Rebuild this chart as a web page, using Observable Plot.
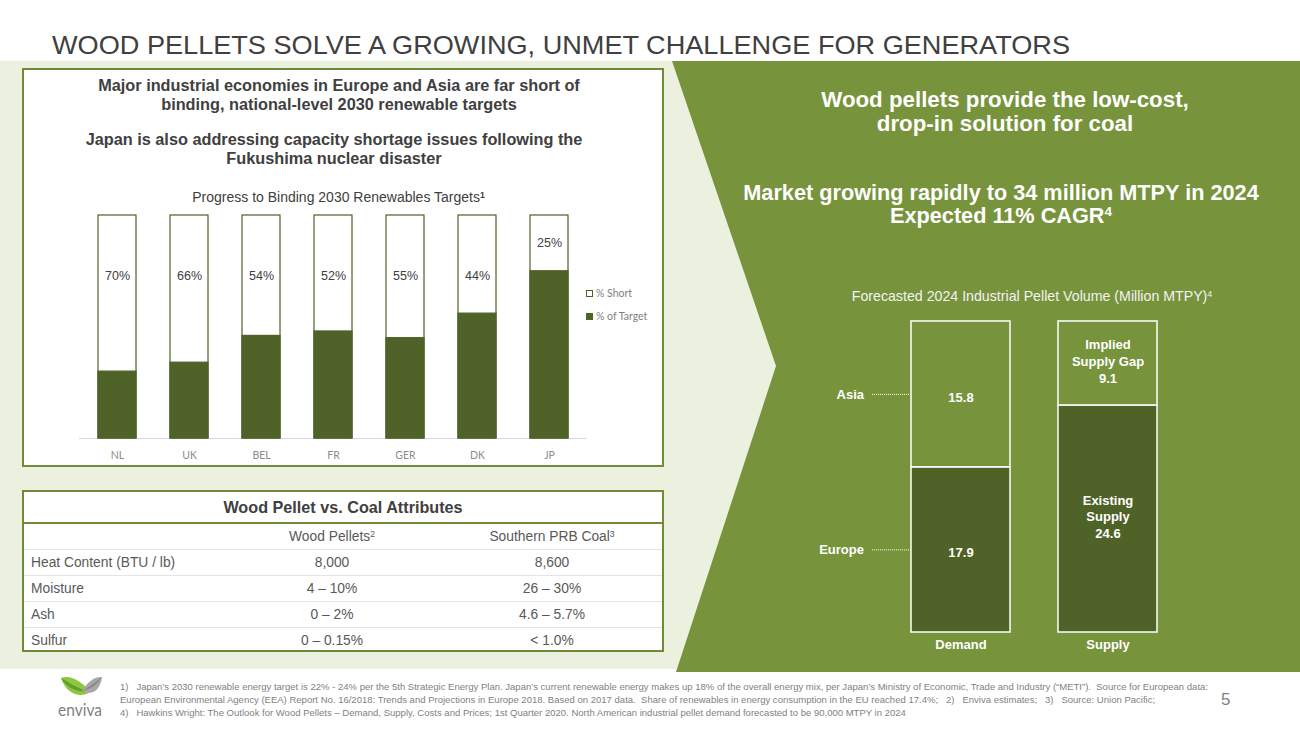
<!DOCTYPE html>
<html><head><meta charset="utf-8">
<script src="https://cdn.jsdelivr.net/npm/d3@7"></script>
<script src="https://cdn.jsdelivr.net/npm/@observablehq/plot@0.6"></script>
<style>
body{margin:0;width:1300px;height:731px;position:relative;overflow:hidden;background:#fff;font-family:"Liberation Sans",Arial,sans-serif;}
.abs{position:absolute;}
.fit{display:inline-block;white-space:pre;transform-origin:0 50%;}
sup{font-size:0.62em;line-height:0;vertical-align:0.5em;}
.hd{color:#404040;font-weight:bold;font-size:16.3px;text-align:center;line-height:19px;}
#tbl{border-collapse:collapse;width:100%;font-size:13.8px;color:#595959;}
#tbl td{height:25px;padding:0;border-top:1px solid #E4E4E4;}
.legend{font-family:Lato,"Noto Sans",sans-serif;font-size:10.5px;color:#7F7F7F;line-height:12px;}
.sw{display:inline-block;width:7px;height:7px;box-sizing:border-box;border:1px solid #4F6228;margin-right:3px;vertical-align:-0px;}
</style></head><body>

<svg class="abs" style="left:0;top:0" width="1300" height="731">
  <rect x="0" y="61" width="1300" height="608" fill="#EBF1DE"/>
  <polygon points="672,61 1300,61 1300,672 676,672 776,366" fill="#77933C"/>
</svg>

<div class="abs" style="left:52px;top:32px;font-size:26.5px;line-height:26.5px;color:#404040;"><span class="fit" id="title">WOOD PELLETS SOLVE A GROWING, UNMET CHALLENGE FOR GENERATORS</span></div>

<div class="abs" style="left:22px;top:68px;width:642px;height:399px;box-sizing:border-box;border:2px solid #6F8A38;background:#fff;"></div>
<div class="abs hd" style="left:0;width:678px;top:76px;">Major industrial economies in Europe and Asia are far short of<br>binding, national-level 2030 renewable targets</div>
<div class="abs hd" style="left:0;width:668px;top:130px;">Japan is also addressing capacity shortage issues following the<br>Fukushima nuclear disaster</div>
<div class="abs" style="left:0;width:677px;top:189px;text-align:center;font-size:14px;line-height:16px;color:#404040;">Progress to Binding 2030 Renewables Targets<sup style="font-weight:bold">1</sup></div>
<div class="abs" id="leftChart" style="left:0;top:200px;"></div>
<div class="abs legend" style="left:586px;top:287px;"><span class="sw" style="background:#fff"></span>% Short</div>
<div class="abs legend" style="left:586px;top:310px;"><span class="sw" style="background:#4F6228"></span>% of Target</div>

<div class="abs" style="left:22px;top:490px;width:642px;height:162px;box-sizing:border-box;border:2px solid #6F8A38;background:#fff;">
  <div style="height:30px;line-height:31px;text-align:center;font-weight:bold;font-size:16.2px;color:#404040;border-bottom:2px solid #6F8A38;">Wood Pellet vs. Coal Attributes</div>
  <table id="tbl"></table>
</div>

<div class="abs" style="left:705px;width:600px;top:88px;text-align:center;color:#fff;font-weight:bold;font-size:22.3px;line-height:24px;">Wood pellets provide the low-cost,<br>drop-in solution for coal</div>
<div class="abs" style="left:701px;width:600px;top:181px;text-align:center;color:#fff;font-weight:bold;font-size:21.7px;line-height:23px;white-space:nowrap;">Market growing rapidly to 34 million MTPY in 2024<br>Expected 11% CAGR<sup>4</sup></div>
<div class="abs" style="left:782px;width:500px;top:288px;text-align:center;color:#F2F2F2;font-size:14.2px;line-height:16px;">Forecasted 2024 Industrial Pellet Volume (Million MTPY)<sup>4</sup></div>
<div class="abs" id="rightChart" style="left:800px;top:280px;"></div>

<svg class="abs" style="left:54px;top:673px" width="56" height="48">
  <path d="M7,5 C16,1 29,9 36,19 C28,25 13,23 7,5 Z" fill="#8DC63F"/>
  <path d="M7,5 C12,14 22,19 34,19 C24,15 15,10 7,5 Z" fill="#5E9E2D"/>
  <path d="M28,18 C33,9 41,3 48,4 C47,15 39,24 28,18 Z" fill="#A8A8A8"/>
  <path d="M48,4 C43,12 37,16 28,18 C36,13 42,9 48,4 Z" fill="#8A8A8A"/>
  <text x="4" y="43" font-family="Lato,'Noto Sans',sans-serif" font-size="18" fill="#7F7F7F" textLength="44" lengthAdjust="spacingAndGlyphs">enviva</text>
</svg>

<div class="abs" id="notes" style="left:120px;top:680.5px;font-size:8.6px;line-height:13px;color:#7F7F7F;"></div>
<div class="abs" style="left:1221px;top:690px;font-size:17px;line-height:20px;color:#7F7F7F;">5</div>

<script>
// ---------- data: renewable targets ----------
const countries = ["NL", "UK", "BEL", "FR", "GER", "DK", "JP"];
const pctOfTarget = [30, 34, 46, 48, 45, 56, 75];
const pctShort = [70, 66, 54, 52, 55, 44, 25];

// ---------- data: pellet volume ----------
const volumeBar = ["Demand", "Demand", "Supply", "Supply"];
const volumeSegment = ["Europe", "Asia", "Existing\nSupply", "Implied\nSupply Gap"];
const volumeValue = [17.9, 15.8, 24.6, 9.1];
const volumeTone = ["dark", "light", "dark", "light"];
const volumeNameInside = [false, false, true, true];

// ---------- data: attributes table ----------
const attrNames = ["Heat Content (BTU / lb)", "Moisture", "Ash", "Sulfur"];
const attrPellets = ["8,000", "4 – 10%", "0 – 2%", "0 – 0.15%"];
const attrCoal = ["8,600", "26 – 30%", "4.6 – 5.7%", "< 1.0%"];

// ---------- data: footnotes ----------
const footnotes = [
  "1)   Japan’s 2030 renewable energy target is 22% - 24% per the 5th Strategic Energy Plan. Japan’s current renewable energy makes up 18% of the overall energy mix, per Japan’s Ministry of Economic, Trade and Industry (“METI”).  Source for European data:",
  "European Environmental Agency (EEA) Report No. 16/2018: Trends and Projections in Europe 2018. Based on 2017 data.  Share of renewables in energy consumption in the EU reached 17.4%;   2)   Enviva estimates;   3)   Source: Union Pacific;",
  "4)   Hawkins Wright: The Outlook for Wood Pellets – Demand, Supply, Costs and Prices; 1st Quarter 2020. North American industrial pellet demand forecasted to be 90,000 MTPY in 2024"
];

// ---------- left chart ----------
const rows = countries.map((c, i) => ({country: c, target: pctOfTarget[i], short: pctShort[i]}));
const dark = "#4F6228";
const left = Plot.plot({
  width: 664, height: 270,
  marginLeft: 79, marginRight: 77.5, marginTop: 15, marginBottom: 32,
  style: {background: "transparent", fontFamily: "Lato, 'Noto Sans', sans-serif", fontSize: "10.5px", color: "#8C8C8C", overflow: "visible"},
  x: {domain: countries, paddingInner: 0.476, paddingOuter: 0.238, label: null, tickSize: 0, tickPadding: 13},
  y: {domain: [0, 100], axis: null},
  marks: [
    Plot.ruleY([0], {stroke: "#D9D9D9", strokeWidth: 1}),
    Plot.barY(rows, {x: "country", y: d => d.target + d.short, fill: "white", stroke: dark, strokeWidth: 1.2}),
    Plot.barY(rows, {x: "country", y: "target", fill: dark, stroke: dark, strokeWidth: 1.2}),
    Plot.text(rows, {x: "country", y: d => d.short < 30 ? 100 - d.short / 2 : 73, text: d => d.short + "%",
      fill: "#404040", fontSize: 12.5, fontFamily: "Liberation Sans, Arial, sans-serif"})
  ]
});
document.getElementById("leftChart").appendChild(left);

// ---------- right chart ----------
const vol = volumeValue.map((v, i) => ({bar: volumeBar[i], name: volumeSegment[i], value: v, tone: volumeTone[i], inside: volumeNameInside[i]}));
const demand = vol.filter(d => !d.inside);
const right = Plot.plot({
  width: 500, height: 380,
  marginLeft: 110, marginRight: 142, marginTop: 41, marginBottom: 28,
  style: {background: "transparent", fontFamily: "Liberation Sans, Arial, sans-serif", fontSize: "13px", fontWeight: "bold", color: "#FFFFFF", overflow: "visible"},
  x: {domain: ["Demand", "Supply"], paddingInner: 0.324, paddingOuter: 0, label: null, tickSize: 0, tickPadding: 7},
  y: {domain: [0, d3.sum(demand, d => d.value)], axis: null},
  color: {domain: ["dark", "light"], range: [dark, "#77933C"]},
  marks: [
    Plot.barY(vol, Plot.stackY({x: "bar", y: "value", fill: "tone", stroke: "white", strokeWidth: 1.5})),
    Plot.text(vol, Plot.stackY({x: "bar", y: "value", filter: d => !d.inside, text: d => d.value.toFixed(1),
      fill: "white", fontSize: 13, fontWeight: "bold", dy: 3})),
    Plot.text(vol, Plot.stackY({x: "bar", y: "value", filter: d => d.inside, text: d => d.name + "\n" + d.value.toFixed(1),
      fill: "white", fontSize: 13, fontWeight: "bold", lineHeight: 1.3, dy: -3})),
    Plot.text(vol, Plot.stackY({x: "bar", y: "value", filter: d => !d.inside, text: "name", fill: "white",
      fontSize: 13, fontWeight: "bold", textAnchor: "end", dx: -97})),
    Plot.tickY(vol, Plot.stackY({x: "bar", y: "value", filter: d => !d.inside, stroke: "white", strokeWidth: 1,
      strokeDasharray: "1,1", dx: -39, insetRight: 61}))
  ]
});
document.getElementById("rightChart").appendChild(right);

// ---------- table ----------
const tbl = document.getElementById("tbl");
const head = document.createElement("tr");
head.innerHTML = `<td style="width:198px;border-top:none"></td><td style="text-align:center;border-top:none;width:220px">Wood Pellets<sup>2</sup></td><td style="text-align:center;border-top:none">Southern PRB Coal<sup>3</sup></td>`;
tbl.appendChild(head);
attrNames.forEach((n, i) => {
  const tr = document.createElement("tr");
  tr.innerHTML = `<td style="padding-left:7px">${n}</td><td style="text-align:center">${attrPellets[i]}</td><td style="text-align:center">${attrCoal[i].replace("<", "&lt;")}</td>`;
  tbl.appendChild(tr);
});

// ---------- footnotes ----------
const notes = document.getElementById("notes");
footnotes.forEach(t => {
  const d = document.createElement("div");
  const s = document.createElement("span");
  s.className = "fit"; s.textContent = t;
  d.appendChild(s); notes.appendChild(d);
});

// fit widths
function fitTo(el, w) { const a = el.getBoundingClientRect().width; el.style.transform = `scaleX(${w / a})`; return w / a; }
fitTo(document.getElementById("title"), 1018);
const spans = notes.querySelectorAll(".fit");
const k = fitTo(spans[0], 1088);
spans[1].style.transform = `scaleX(${k})`;
spans[2].style.transform = `scaleX(${k})`;
</script>
</body></html>
